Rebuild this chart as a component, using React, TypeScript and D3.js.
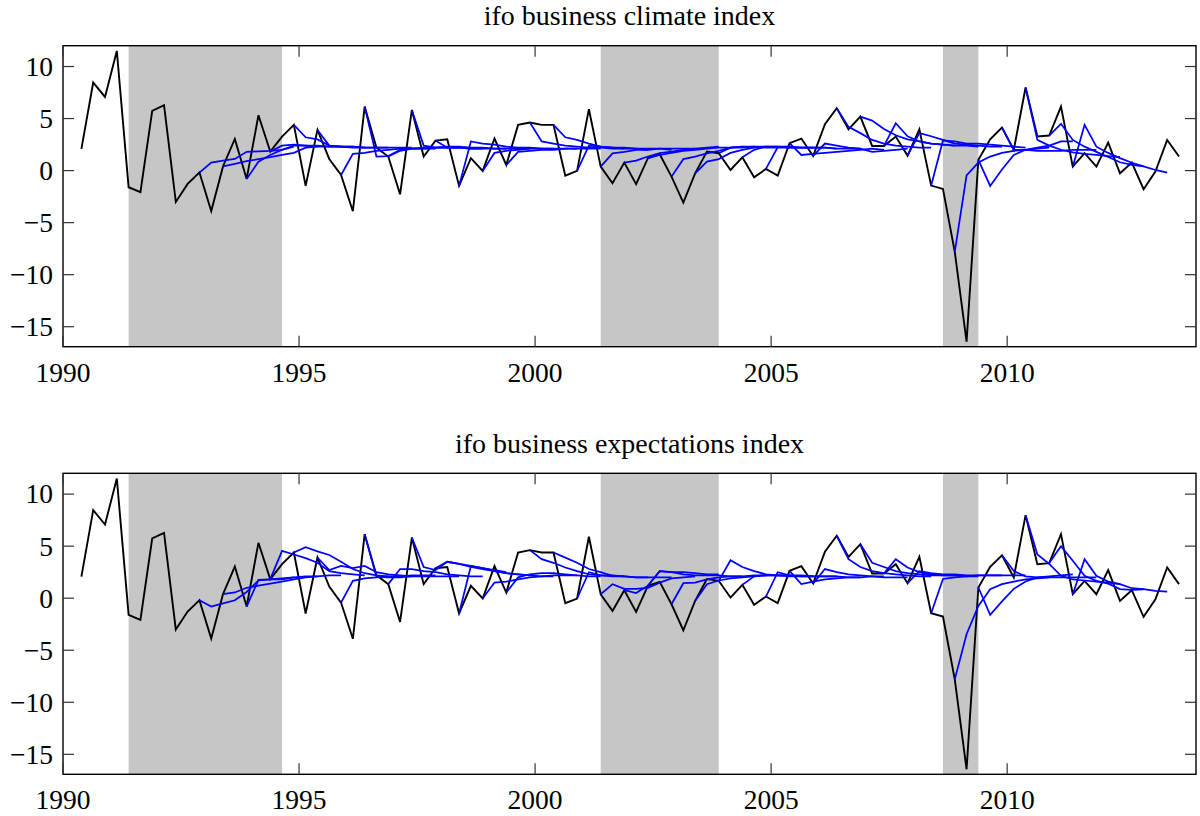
import React, { useEffect, useRef } from 'react';
import * as d3 from 'd3';

// quarterly GDP growth (annualised), first observation 1990Q2
const firstQuarter = 1990.39;
const gdpGrowth = [
  2.08, 8.46, 7.08, 11.5, -1.6, -2.08, 5.74, 6.28, -3.01, -1.28,
  -0.19, -3.88, 0.4, 3.04, -0.8, 5.32, 1.83, 3.27, 4.39, -1.47,
  3.91, 1.12, -0.42, -3.9, 6.15, 2.2, 1.35, -2.28, 5.83, 1.35,
  2.88, 3.0, -1.47, 1.19, -0.03, 3.08, 0.54, 4.39, 4.62, 4.39,
  4.39, -0.48, -0.03, 5.9, 0.38, -1.22, 0.77, -1.31, 1.19, 1.57,
  -0.58, -3.08, -0.26, 1.83, 1.67, 0.06, 1.28, -0.64, 0.16, -0.48,
  2.63, 3.08, 1.41, 4.46, 6.0, 3.97, 5.19, 2.37, 2.37, 3.27,
  1.44, 3.97, -1.44, -1.76, -7.8, -16.44, 1.03, 3.01, 4.13, 1.99,
  7.98, 3.27, 3.37, 6.15, 0.38, 1.67, 0.38, 2.69, -0.26, 0.77,
  -1.79, -0.1, 2.95, 1.35,
];

// recession periods (shaded)
const recessions = [
  [1991.39, 1994.64],
  [2001.39, 2003.89],
  [2008.64, 2009.39],
];

// forecast origins (index into gdpGrowth), each followed by 8 quarterly forecasts
const forecastOrigins = [
  10, 12, 14, 16, 18, 20, 22, 24, 26, 28, 30, 32, 34, 36, 38, 40, 42, 44, 46,
  48, 50, 52, 54, 56, 58, 60, 62, 64, 66, 68, 70, 72, 74, 76, 78, 80, 82, 84,
];

const climateForecasts = [
  [0.77, 0.96, 1.12, 1.8, 1.85, 1.9, 2.0, 2.3],
  [0.65, 0.9, 1.1, 1.3, 1.5, 1.7, 2.2, 2.3],
  [0.85, 1.5, 2.0, 2.4, 2.4, 2.3, 2.3, 2.3],
  [2.4, 2.5, 2.4, 2.4, 2.3, 2.3, 2.2, 2.2],
  [3.2, 3.0, 2.4, 2.3, 2.3, 2.2, 2.2, 2.2],
  [2.4, 2.3, 2.3, 2.2, 2.2, 2.2, 2.2, 2.2],
  [1.6, 1.7, 1.9, 2.0, 2.1, 2.1, 2.1, 2.1],
  [1.35, 1.4, 2.0, 2.1, 2.1, 2.2, 2.2, 2.2],
  [1.9, 2.1, 2.2, 2.2, 2.2, 2.2, 2.1, 2.1],
  [2.4, 2.2, 2.3, 2.3, 2.2, 2.2, 2.1, 2.1],
  [2.2, 2.2, 2.1, 2.1, 2.1, 2.1, 2.1, 2.1],
  [2.8, 2.6, 2.5, 2.3, 2.2, 2.2, 2.1, 2.1],
  [1.7, 1.9, 2.0, 2.1, 2.1, 2.1, 2.1, 2.1],
  [1.8, 1.9, 2.0, 2.0, 2.1, 2.1, 2.1, 2.1],
  [2.8, 2.6, 2.4, 2.3, 2.2, 2.2, 2.1, 2.1],
  [3.2, 2.95, 2.6, 2.3, 2.2, 2.1, 2.1, 2.0],
  [2.4, 2.3, 2.2, 2.2, 2.1, 2.1, 2.1, 2.0],
  [1.65, 1.8, 2.0, 2.0, 2.1, 2.1, 2.1, 2.1],
  [0.96, 1.35, 1.67, 1.83, 2.0, 2.1, 2.2, 2.3],
  [1.5, 1.7, 1.9, 2.0, 2.1, 2.2, 2.2, 2.3],
  [1.1, 1.35, 1.65, 1.9, 2.2, 2.2, 2.3, 2.3],
  [0.87, 1.1, 1.7, 2.0, 2.2, 2.3, 2.3, 2.3],
  [2.2, 2.3, 2.3, 2.2, 2.2, 2.2, 2.2, 2.2],
  [2.0, 2.3, 2.3, 2.2, 2.2, 2.2, 2.2, 2.1],
  [2.25, 2.3, 2.2, 2.2, 2.2, 2.1, 2.1, 2.1],
  [1.5, 1.6, 1.7, 1.8, 1.9, 2.0, 2.1, 2.0],
  [2.6, 2.4, 2.2, 2.1, 1.8, 1.9, 2.0, 2.1],
  [4.2, 3.6, 2.95, 2.6, 2.4, 2.3, 2.2, 2.2],
  [4.8, 4.0, 3.4, 3.0, 2.8, 2.6, 2.5, 2.4],
  [4.55, 3.3, 2.8, 2.6, 2.5, 2.4, 2.4, 2.3],
  [3.6, 3.3, 2.95, 2.6, 2.5, 2.4, 2.3, 2.3],
  [2.9, 2.8, 2.6, 2.6, 2.5, 2.4, 2.3, 2.2],
  [-0.45, 0.77, 1.35, 1.7, 1.9, 2.0, 2.1, 2.2],
  [-1.47, 0.1, 1.5, 2.0, 2.2, 2.4, 2.8, 2.8],
  [2.0, 2.0, 1.9, 1.9, 1.9, 2.0, 2.0, 2.0],
  [2.95, 2.4, 2.0, 1.75, 1.6, 1.5, 1.4, 1.3],
  [4.5, 2.95, 2.3, 1.8, 1.3, 0.8, 0.55, 0.4],
  [4.4, 2.3, 1.7, 1.2, 0.75, 0.4, 0.06, -0.2],
];

const expectationsForecasts = [
  [-0.8, -0.5, -0.2, 0.6, 1.7, 1.8, 1.9, 2.0],
  [0.55, 1.0, 1.2, 1.4, 1.6, 1.8, 2.0, 2.1],
  [1.76, 1.8, 1.8, 2.0, 2.1, 2.1, 2.2, 2.2],
  [4.55, 4.2, 3.85, 3.4, 2.6, 2.4, 2.3, 2.2],
  [4.9, 4.5, 4.15, 3.5, 2.8, 2.4, 2.2, 2.1],
  [2.7, 3.1, 2.9, 3.1, 2.5, 2.3, 2.2, 2.1],
  [1.67, 1.9, 2.0, 2.1, 2.1, 2.2, 2.2, 2.2],
  [2.05, 2.0, 2.0, 2.1, 2.1, 2.1, 2.1, 2.1],
  [2.8, 2.8, 2.6, 2.5, 2.3, 2.2, 2.1, 2.1],
  [3.0, 2.7, 3.5, 3.3, 3.1, 2.9, 2.7, 2.5],
  [3.5, 3.3, 3.0, 2.8, 2.6, 2.4, 2.3, 2.2],
  [3.1, 2.9, 2.6, 2.4, 2.3, 2.2, 2.1, 2.1],
  [1.5, 1.6, 1.8, 2.0, 2.1, 2.2, 2.2, 2.2],
  [2.0, 2.3, 2.4, 2.4, 2.3, 2.2, 2.1, 2.1],
  [3.75, 3.4, 2.95, 2.6, 2.3, 2.2, 2.1, 2.1],
  [3.9, 3.4, 2.8, 2.5, 2.15, 2.1, 2.0, 2.0],
  [2.5, 2.2, 2.2, 2.1, 2.0, 2.0, 2.0, 2.0],
  [1.35, 0.9, 0.9, 1.0, 1.5, 1.9, 2.0, 2.1],
  [0.5, 1.2, 2.6, 2.5, 2.5, 2.4, 2.3, 2.3],
  [2.6, 2.5, 2.3, 2.2, 2.2, 2.2, 2.1, 2.1],
  [1.44, 1.5, 1.8, 2.0, 2.1, 2.1, 2.2, 2.2],
  [1.35, 1.7, 1.9, 2.0, 2.1, 2.2, 2.2, 2.2],
  [3.65, 3.0, 2.6, 2.3, 2.2, 2.1, 2.1, 2.1],
  [2.1, 2.2, 2.2, 2.2, 2.1, 2.1, 2.1, 2.1],
  [2.5, 2.2, 2.2, 2.1, 2.1, 2.1, 2.0, 2.0],
  [1.35, 1.6, 1.8, 1.9, 2.0, 2.0, 2.1, 2.1],
  [2.8, 2.5, 2.3, 2.2, 2.1, 2.0, 2.0, 2.0],
  [3.75, 3.0, 2.6, 2.4, 2.3, 2.2, 2.1, 2.1],
  [3.4, 3.0, 2.6, 2.4, 2.3, 2.2, 2.2, 2.2],
  [3.75, 2.95, 2.5, 2.3, 2.2, 2.2, 2.1, 2.1],
  [2.6, 2.4, 2.3, 2.3, 2.2, 2.2, 2.2, 2.2],
  [1.85, 2.0, 2.1, 2.2, 2.2, 2.2, 2.2, 2.2],
  [-3.46, -0.74, 0.86, 1.35, 1.6, 1.8, 1.9, 2.0],
  [-1.6, -0.3, 0.9, 1.6, 2.0, 2.1, 2.2, 2.3],
  [2.6, 2.1, 2.0, 2.0, 2.0, 2.0, 2.0, 2.0],
  [4.2, 3.3, 2.15, 1.8, 1.7, 1.6, 1.5, 1.35],
  [5.0, 3.6, 2.15, 1.67, 1.4, 0.87, 0.8, 0.85],
  [3.75, 2.15, 1.6, 1.35, 0.96, 0.87, 0.7, 0.64],
];

const xTicks = [1990, 1995, 2000, 2005, 2010];
const yTicks = [-15, -10, -5, 0, 5, 10];
const xDomain = [1990, 2014];
const yDomain = [-16.92, 12.0];

const panels = [
  { title: 'ifo business climate index', top: 45.7, bottom: 346.7, forecasts: climateForecasts },
  { title: 'ifo business expectations index', top: 473.3, bottom: 774.3, forecasts: expectationsForecasts },
];

const FONT = '"Liberation Serif", "Times New Roman", serif';

export default function App() {
  const svgRef = useRef<SVGSVGElement | null>(null);

  useEffect(() => {
    const svg = d3.select(svgRef.current);
    svg.selectAll('*').remove();

    const left = 63;
    const right = 1196;
    const tickLen = 11;

    const x = d3.scaleLinear().domain(xDomain).range([left, right]);
    const dateOf = (i: number) => firstQuarter + i / 4;

    panels.forEach((p) => {
      const y = d3.scaleLinear().domain(yDomain).range([p.bottom, p.top]);
      const g = svg.append('g');

      const clipId = 'clip' + Math.round(p.top);
      g.append('clipPath')
        .attr('id', clipId)
        .append('rect')
        .attr('x', left)
        .attr('y', p.top)
        .attr('width', right - left)
        .attr('height', p.bottom - p.top);

      // recession shading
      g.selectAll('.rec')
        .data(recessions)
        .enter()
        .append('rect')
        .attr('x', (d) => x(d[0]))
        .attr('width', (d) => x(d[1]) - x(d[0]))
        .attr('y', p.top)
        .attr('height', p.bottom - p.top)
        .attr('fill', '#c6c6c6');

      const line = d3
        .line<[number, number]>()
        .x((d) => x(d[0]))
        .y((d) => y(d[1]));

      const plot = g.append('g').attr('clip-path', `url(#${clipId})`);

      // actual growth
      plot
        .append('path')
        .attr('d', line(gdpGrowth.map((v, i) => [dateOf(i), v] as [number, number])))
        .attr('fill', 'none')
        .attr('stroke', '#000')
        .attr('stroke-width', 1.9)
        .attr('stroke-linejoin', 'miter');

      // forecast paths
      forecastOrigins.forEach((o, j) => {
        const pts: [number, number][] = [[dateOf(o), gdpGrowth[o]]];
        p.forecasts[j].forEach((v, h) => pts.push([dateOf(o + h + 1), v]));
        plot
          .append('path')
          .attr('d', line(pts))
          .attr('fill', 'none')
          .attr('stroke', '#0000ff')
          .attr('stroke-width', 1.75);
      });

      // frame
      g.append('rect')
        .attr('x', left)
        .attr('y', p.top)
        .attr('width', right - left)
        .attr('height', p.bottom - p.top)
        .attr('fill', 'none')
        .attr('stroke', '#000')
        .attr('stroke-width', 1.4);

      // x ticks (bottom and top, inward)
      xTicks.forEach((t) => {
        g.append('line')
          .attr('x1', x(t)).attr('x2', x(t))
          .attr('y1', p.bottom).attr('y2', p.bottom - tickLen)
          .attr('stroke', '#333').attr('stroke-width', 1.2);
        g.append('line')
          .attr('x1', x(t)).attr('x2', x(t))
          .attr('y1', p.top).attr('y2', p.top + tickLen)
          .attr('stroke', '#333').attr('stroke-width', 1.2);
        g.append('text')
          .attr('x', x(t))
          .attr('y', p.bottom + 35)
          .attr('text-anchor', 'middle')
          .attr('font-family', FONT)
          .attr('font-size', 27.5)
          .text(String(t));
      });

      // y ticks (left and right, inward)
      yTicks.forEach((t) => {
        g.append('line')
          .attr('x1', left).attr('x2', left + tickLen)
          .attr('y1', y(t)).attr('y2', y(t))
          .attr('stroke', '#333').attr('stroke-width', 1.2);
        g.append('line')
          .attr('x1', right).attr('x2', right - tickLen)
          .attr('y1', y(t)).attr('y2', y(t))
          .attr('stroke', '#333').attr('stroke-width', 1.2);
        g.append('text')
          .attr('x', 53)
          .attr('y', y(t))
          .attr('dy', '0.34em')
          .attr('text-anchor', 'end')
          .attr('font-family', FONT)
          .attr('font-size', 27.5)
          .text(t < 0 ? '\u2212' + Math.abs(t) : String(t));
      });

      g.append('text')
        .attr('x', (left + right) / 2)
        .attr('y', p.top - 20.5)
        .attr('text-anchor', 'middle')
        .attr('font-family', FONT)
        .attr('font-size', 28)
        .text(p.title);
    });
  }, []);

  return (
    <svg
      ref={svgRef}
      width={1200}
      height={816}
      viewBox="0 0 1200 816"
      style={{ position: 'absolute', left: 0, top: 0, background: '#fff' }}
    />
  );
}
